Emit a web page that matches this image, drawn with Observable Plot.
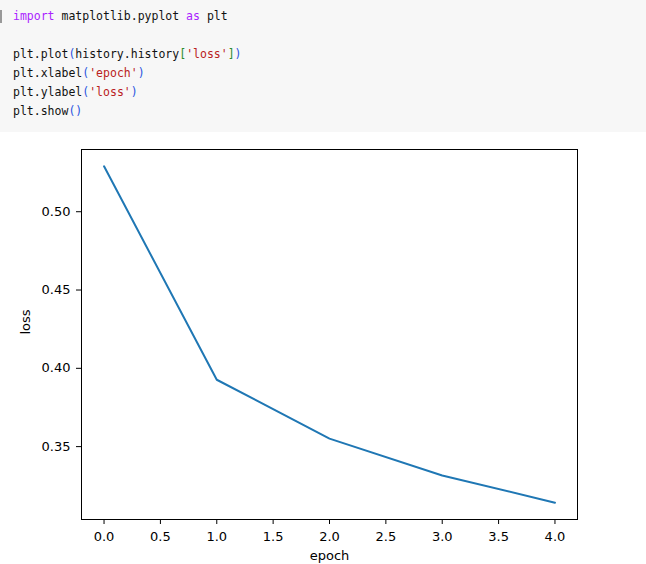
<!DOCTYPE html>
<html>
<head>
<meta charset="utf-8">
<script src="https://cdn.jsdelivr.net/npm/d3@7"></script>
<script src="https://cdn.jsdelivr.net/npm/@observablehq/plot@0.6"></script>
<style>
  html, body { margin: 0; padding: 0; background: #fff; }
  #code {
    position: relative;
    width: 646px; height: 132px;
    background: #f7f7f7;
    box-sizing: border-box;
    padding: 7px 0 0 13px;
    font-family: "DejaVu Sans Mono", monospace;
    font-size: 11.5px;
    line-height: 19px;
    color: #111;
  }
  #code .ln { height: 19px; white-space: pre; }
  #code .bar { position: absolute; left: 0; top: 10px; width: 2px; height: 13px; background: #999; }
  .kw { color: #aa22ff; }
  .st { color: #ba2121; }
  .pb { color: #2a55e0; }
  .pg { color: #2e8b2e; }
  #chart { display: block; }
</style>
</head>
<body>
<div id="code"><div class="bar"></div>
<div class="ln"><span class="kw">import</span><span> matplotlib.pyplot </span><span class="kw">as</span><span> plt</span></div>
<div class="ln"></div>
<div class="ln"><span>plt.plot</span><span class="pb">(</span><span>history.history</span><span class="pg">[</span><span class="st">'loss'</span><span class="pg">]</span><span class="pb">)</span></div>
<div class="ln"><span>plt.xlabel</span><span class="pb">(</span><span class="st">'epoch'</span><span class="pb">)</span></div>
<div class="ln"><span>plt.ylabel</span><span class="pb">(</span><span class="st">'loss'</span><span class="pb">)</span></div>
<div class="ln"><span>plt.show</span><span class="pb">()</span></div>
</div>
<div id="chart"></div>
<script>
const epochs = [0, 1, 2, 3, 4];
const loss = [0.5290, 0.3927, 0.3551, 0.3316, 0.3142];
const xTicks = [0, 0.5, 1, 1.5, 2, 2.5, 3, 3.5, 4];
const yTicks = [0.35, 0.40, 0.45, 0.50];
const xLabel = "epoch";
const yLabel = "loss";

const data = epochs.map((e, i) => ({epoch: e, loss: loss[i]}));
const [x0, x1] = d3.extent(epochs);
const [y0, y1] = d3.extent(loss);
const xm = (x1 - x0) * 0.05, ym = (y1 - y0) * 0.05;

const chart = Plot.plot({
  width: 646,
  height: 432,
  marginTop: 17,
  marginBottom: 45,
  marginLeft: 81,
  marginRight: 69,
  style: {fontFamily: "DejaVu Sans", fontSize: "13px", color: "black", background: "white"},
  x: {domain: [x0 - xm, x1 + xm]},
  y: {domain: [y0 - ym, y1 + ym]},
  marks: [
    Plot.lineY(data, {x: "epoch", y: "loss", stroke: "#1f77b4", strokeWidth: 2}),
    Plot.frame({stroke: "black", strokeWidth: 1}),
    Plot.axisX({ticks: xTicks, tickFormat: d3.format(".1f"), tickSize: 5, tickPadding: 7, label: null, fill: "black", stroke: "black"}),
    Plot.axisY({ticks: yTicks, tickFormat: d3.format(".2f"), tickSize: 5, tickPadding: 6, label: null, fill: "black", stroke: "black"}),
    Plot.text([xLabel], {text: d => d, frameAnchor: "bottom", dy: 36, lineAnchor: "middle", fill: "black"}),
    Plot.text([yLabel], {text: d => d, frameAnchor: "left", dx: -56, rotate: -90, lineAnchor: "middle", fill: "black"})
  ]
});
document.getElementById("chart").appendChild(chart);
</script>
</body>
</html>
